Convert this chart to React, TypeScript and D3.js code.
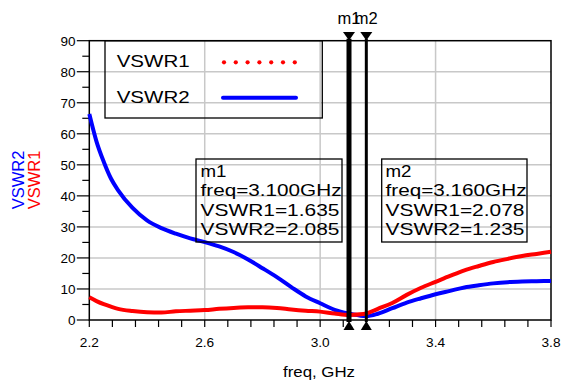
import React from "react";
import * as d3 from "d3";

const freq = [2.2, 2.225, 2.25, 2.275, 2.3, 2.35, 2.4, 2.45, 2.5, 2.55, 2.6, 2.65, 2.7, 2.75, 2.8, 2.85, 2.9, 2.95, 3.0, 3.05, 3.1, 3.15, 3.16, 3.2, 3.25, 3.3, 3.35, 3.4, 3.45, 3.5, 3.55, 3.6, 3.65, 3.7, 3.75, 3.8];
const vswr1 = [7.3, 6.1, 5.1, 4.3, 3.6, 2.9, 2.5, 2.4, 2.8, 3.0, 3.2, 3.6, 3.9, 4.1, 4.1, 3.9, 3.4, 3.0, 2.7, 2.1, 1.635, 1.9, 2.078, 3.6, 5.5, 8.1, 10.4, 12.3, 14.2, 16.0, 17.4, 18.7, 19.7, 20.6, 21.3, 22.0];
const vswr2 = [66.4, 57.5, 51.0, 45.6, 41.8, 36.1, 32.1, 29.6, 27.8, 26.3, 25.1, 23.7, 21.9, 19.5, 16.7, 13.8, 10.6, 7.6, 5.4, 3.3, 2.085, 1.3, 1.235, 2.0, 3.8, 5.6, 7.0, 8.3, 9.4, 10.5, 11.2, 11.8, 12.2, 12.4, 12.5, 12.6];

const xTickLabels = [2.2, 2.6, 3.0, 3.4, 3.8];
const yTickLabels = [0, 10, 20, 30, 40, 50, 60, 70, 80, 90];

const markerNames = ["m1", "m2"];
const markerFreqs = [3.1, 3.16];
const markerV1 = ["1.635", "2.078"];
const markerV2 = ["2.085", "1.235"];

const FONT = "Liberation Sans, Arial, sans-serif";

export default function App() {
  const W = 562, H = 381;
  const left = 89.3, right = 551, top = 40.7, bottom = 320;
  const x = d3.scaleLinear().domain([2.2, 3.8]).range([left, right]);
  const y = d3.scaleLinear().domain([0, 90]).range([bottom, top]);

  const line = (vals: number[]) =>
    d3.line<number>()
      .x((_, i) => x(freq[i]))
      .y((v) => y(v))
      .curve(d3.curveMonotoneX)(vals) as string;

  const xMinor = d3.range(0, 21).map((i) => 2.2 + i * 0.08);
  const yMinor = d3.range(0, 19).map((i) => i * 5);

  const boxes = [
    { x0: 196, x1: 342, tx: 200.5 },
    { x0: 381.7, x1: 527, tx: 385.5 },
  ];
  const baselines = [176.5, 196, 215.5, 235];

  return (
    <svg width={W} height={H} style={{ position: "absolute", left: 0, top: 0 }} fontFamily={FONT}>
      <rect width={W} height={H} fill="#fff" />
      {xTickLabels.slice(1, -1).map((t) => (
        <line key={"gx" + t} x1={x(t)} x2={x(t)} y1={top} y2={bottom} stroke="#c8c8c8" strokeWidth={1.5} />
      ))}
      {yTickLabels.slice(1, -1).map((t) => (
        <line key={"gy" + t} x1={left} x2={right} y1={y(t)} y2={y(t)} stroke="#c8c8c8" strokeWidth={1.5} />
      ))}
      <rect x={left} y={top} width={right - left} height={bottom - top} fill="none" stroke="#000" strokeWidth={1.5} />
      {xMinor.map((t, i) => (
        <line key={"xt" + i} x1={x(t)} x2={x(t)} y1={bottom} y2={bottom + 7} stroke="#000" strokeWidth={1.2} />
      ))}
      {yMinor.map((t, i) => (
        <line key={"yt" + i} x1={left - (t % 10 === 0 ? 12.5 : 7)} x2={left} y1={y(t)} y2={y(t)} stroke="#000" strokeWidth={1.2} />
      ))}
      {xTickLabels.map((t) => (
        <text key={"xl" + t} x={x(t)} y={347} fontSize={13.5} textLength={19} lengthAdjust="spacingAndGlyphs" textAnchor="middle" fill="#000">{t.toFixed(1)}</text>
      ))}
      {yTickLabels.map((t) => (
        <text key={"yl" + t} x={75.5} y={y(t) + 4.8} fontSize={13.5} textAnchor="end" fill="#000">{t}</text>
      ))}
      <text x={319} y={377} fontSize={15.5} textLength={72} lengthAdjust="spacingAndGlyphs" textAnchor="middle" fill="#000">freq, GHz</text>
      <text transform="translate(24,180) rotate(-90)" fontSize={16.5} textAnchor="middle" fill="#0000ff">VSWR2</text>
      <text transform="translate(40,180) rotate(-90)" fontSize={16.5} textAnchor="middle" fill="#ff0000">VSWR1</text>

      <rect x={105} y={top} width={217.3} height={118 - top} fill="none" stroke="#000" strokeWidth={1.3} />
      <text x={116.7} y={66.7} fontSize={16.5} textLength={73} lengthAdjust="spacingAndGlyphs" fill="#000">VSWR1</text>
      <text x={116.7} y={102.7} fontSize={16.5} textLength={73} lengthAdjust="spacingAndGlyphs" fill="#000">VSWR2</text>
      {d3.range(7).map((i) => (
        <circle key={"ld" + i} cx={224 + i * 11.8} cy={62.3} r={2.1} fill="#ff0000" />
      ))}
      <line x1={223} x2={296} y1={97.7} y2={97.7} stroke="#0000ff" strokeWidth={4} strokeLinecap="round" />

      <path d={line(vswr2)} fill="none" stroke="#0000ff" strokeWidth={4} />
      <path d={line(vswr1)} fill="none" stroke="#ff0000" strokeWidth={4} />

      {markerFreqs.map((f, i) => {
        const mx = x(f);
        const w = i === 0 ? 5 : 3;
        return (
          <g key={"m" + i}>
            <line x1={mx} x2={mx} y1={top - 2} y2={bottom + 2} stroke="#000" strokeWidth={w} />
            <path d={`M${mx - 6},${32} L${mx + 6},${32} L${mx},${40.5} Z`} fill="#000" />
            <path d={`M${mx - 5.5},${330} L${mx + 5.5},${330} L${mx},${321} Z`} fill="#000" />
            <text x={mx} y={24} fontSize={16.5} textAnchor="middle" fill="#000">{markerNames[i]}</text>
          </g>
        );
      })}
      {boxes.map((b, i) => (
        <g key={"box" + i}>
          <rect x={b.x0} y={159} width={b.x1 - b.x0} height={83} fill="none" stroke="#000" strokeWidth={1.3} />
          <text x={b.tx} y={baselines[0]} fontSize={17} textLength={26} lengthAdjust="spacingAndGlyphs" fill="#000">{markerNames[i]}</text>
          <text x={b.tx} y={baselines[1]} fontSize={17} textLength={141} lengthAdjust="spacingAndGlyphs" fill="#000">{`freq=${markerFreqs[i].toFixed(3)}GHz`}</text>
          <text x={b.tx} y={baselines[2]} fontSize={17} textLength={139} lengthAdjust="spacingAndGlyphs" fill="#000">{`VSWR1=${markerV1[i]}`}</text>
          <text x={b.tx} y={baselines[3]} fontSize={17} textLength={139} lengthAdjust="spacingAndGlyphs" fill="#000">{`VSWR2=${markerV2[i]}`}</text>
        </g>
      ))}
    </svg>
  );
}
